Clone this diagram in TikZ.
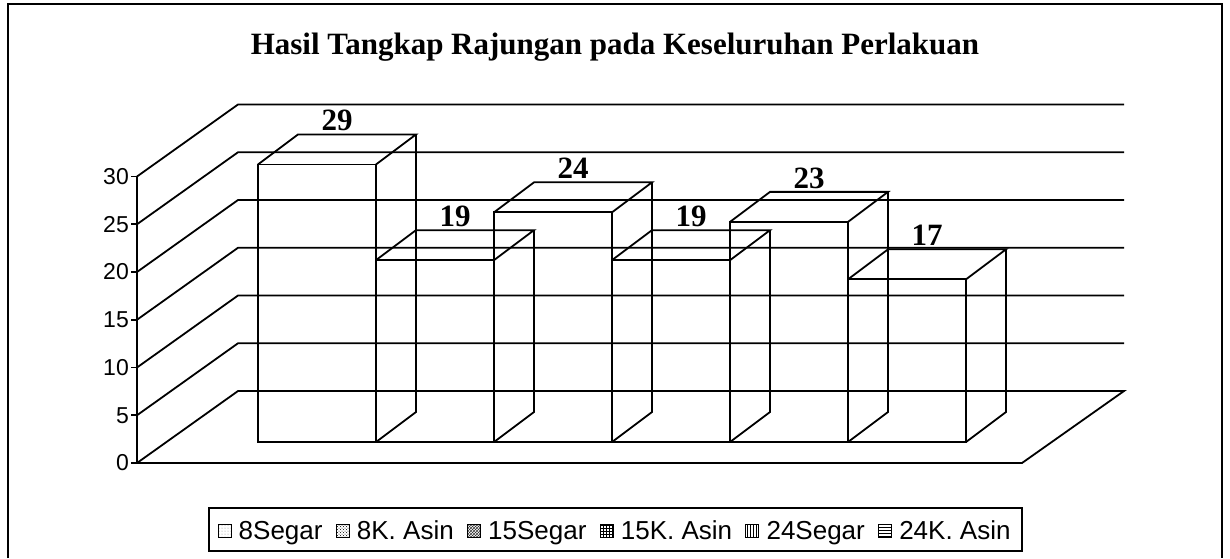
\documentclass[tikz,border=0pt]{standalone}
\usepackage{fontspec}
\setmainfont{Liberation Serif}
\setsansfont{Liberation Sans}
\usetikzlibrary{patterns,positioning}

\begin{document}
\begin{tikzpicture}[x=1pt,y=-1pt,
  wire/.style={black,line width=1.8pt,line join=miter},
  ticklbl/.style={anchor=east,font=\fontsize{23}{23}\selectfont\sffamily,inner sep=0pt},
  barlbl/.style={font=\fontsize{31}{31}\selectfont\bfseries,inner sep=0pt},
  keybox/.style={draw,line width=1pt,minimum size=13pt,inner sep=0pt},
  keytxt/.style={font=\fontsize{26}{27}\selectfont\sffamily,inner sep=0pt,
    text height=20pt,text depth=3pt}]
\useasboundingbox (0,0) rectangle (1230,558);

% chart area frame
\draw[line width=2.6pt] (8,558) -- (8,4) -- (1222,4) -- (1222,558);
\node[font=\fontsize{31}{31}\selectfont\bfseries,anchor=base] (title) at (615,54)
  {Hasil Tangkap Rajungan pada Keseluruhan Perlakuan};

% floor and back wall
\draw[wire] (137,463) -- (238,391) -- (1124,391) -- (1022,463) -- cycle;
\foreach \v in {5,10,...,30}{
  \draw[wire] (137,463-9.55*\v) -- (238,391-9.55*\v) -- (1124,391-9.55*\v);
}

% value axis
\draw[wire] (137,463) -- (137,176.5);
\foreach \v in {0,5,...,30}{
  \draw[wire] (131,463-9.55*\v) -- (137,463-9.55*\v);
  \node[ticklbl] (tick\v) at (129,463-9.55*\v) {\v};
}

% bars
\foreach \v [count=\i] in {29,19,24,19,23,17}{
  \pgfmathsetmacro\xl{258+118*(\i-1)}
  \pgfmathsetmacro\xr{\xl+118}
  \pgfmathsetmacro\yt{442-9.57*\v}
  \draw[wire] (\xl,442) rectangle (\xr,\yt);
  \draw[wire] (\xl,\yt) -- (\xl+40,\yt-30) -- (\xr+40,\yt-30) -- (\xr,\yt);
  \draw[wire] (\xr,442) -- (\xr+40,412) -- (\xr+40,\yt-30);
  \node[barlbl] (val\i) at (\xl+79,\yt-44) {\v};
}

% legend
\draw[line width=1.6pt] (209,508) rectangle (1022,551);
\node[keybox,pattern=dots,pattern color=black!45] (key1) at (224.5,530.5) {};
\node[keytxt,right=7pt of key1] (keylbl1) {8Segar};
\node[keybox,fill=black!55,pattern=crosshatch dots,pattern color=black,right=13pt of keylbl1] (key2) {};
\node[keytxt,right=7pt of key2] (keylbl2) {8K. Asin};
\node[keybox,fill=black!20,pattern=crosshatch,pattern color=black!80,right=13pt of keylbl2] (key3) {};
\node[keytxt,right=7pt of key3] (keylbl3) {15Segar};
\node[keybox,pattern=grid,pattern color=black,right=13pt of keylbl3] (key4) {};
\node[keytxt,right=7pt of key4] (keylbl4) {15K. Asin};
\node[keybox,pattern=vertical lines,pattern color=black,right=13pt of keylbl4] (key5) {};
\node[keytxt,right=7pt of key5] (keylbl5) {24Segar};
\node[keybox,pattern=horizontal lines,pattern color=black,right=13pt of keylbl5] (key6) {};
\node[keytxt,right=7pt of key6] (keylbl6) {24K. Asin};
\end{tikzpicture}
\end{document}
